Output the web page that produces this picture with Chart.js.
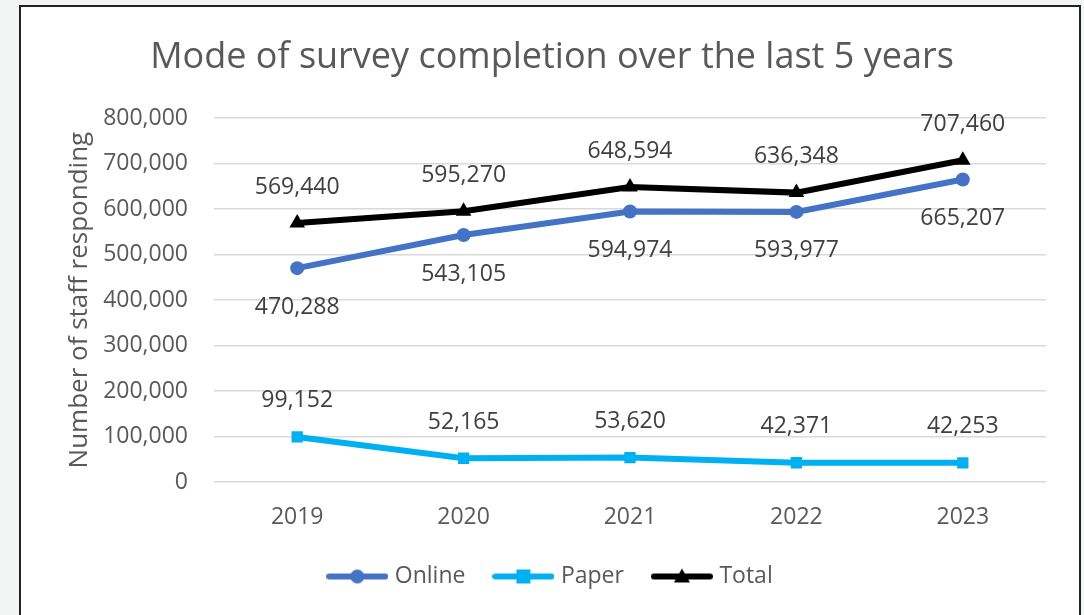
<!DOCTYPE html>
<html>
<head>
<meta charset="utf-8">
<script src="https://cdn.jsdelivr.net/npm/chart.js@4/dist/chart.umd.min.js"></script>
<style>
  html, body { margin: 0; padding: 0; background: #f3f5f4; width: 1084px; height: 615px; overflow: hidden; }
  #frame { position: absolute; left: 19px; top: 5px; width: 1058px; height: 640px; background: #ffffff; border: 2px solid #222222; }
  #wrap { position: absolute; left: 0; top: 0; width: 1084px; height: 615px; }
</style>
</head>
<body>
<div id="frame"></div>
<div id="wrap"><canvas id="chart" width="1084" height="615"></canvas></div>
<script>
const years = ['2019', '2020', '2021', '2022', '2023'];
const online = [470288, 543105, 594974, 593977, 665207];
const paper = [99152, 52165, 53620, 42371, 42253];
const total = [569440, 595270, 648594, 636348, 707460];
const yTicks = [0, 100000, 200000, 300000, 400000, 500000, 600000, 700000, 800000];

const FONT = "'Open Sans', 'Noto Sans', sans-serif";
const fmt = v => v.toLocaleString('en-US');

// Legend swatch: a short line with the series marker in the middle
function swatch(color, style) {
  const c = document.createElement('canvas');
  c.width = 62; c.height = 18;
  const g = c.getContext('2d');
  g.strokeStyle = color; g.lineWidth = 6; g.lineCap = 'round';
  g.beginPath(); g.moveTo(3, 9); g.lineTo(59, 9); g.stroke();
  g.fillStyle = color;
  if (style === 'circle') { g.beginPath(); g.arc(31, 9, 7, 0, Math.PI * 2); g.fill(); }
  else if (style === 'rect') { g.fillRect(24, 2, 14, 14); }
  else { g.beginPath(); g.moveTo(31, 1); g.lineTo(39, 15); g.lineTo(23, 15); g.closePath(); g.fill(); }
  return c;
}

// Value labels next to each point
const valueLabels = {
  id: 'valueLabels',
  afterDatasetsDraw(chart) {
    const ctx = chart.ctx;
    ctx.save();
    ctx.font = `23px ${FONT}`;
    ctx.fillStyle = '#404040';
    ctx.textAlign = 'center';
    ctx.textBaseline = 'middle';
    chart.data.datasets.forEach((ds, i) => {
      const meta = chart.getDatasetMeta(i);
      meta.data.forEach((pt, j) => {
        const dy = ds.labelPos === 'below' ? 39 : -36;
        ctx.fillText(fmt(ds.data[j]), pt.x, pt.y + dy);
      });
    });
    ctx.restore();
  }
};

const series = [
  { label: 'Online', data: online, color: '#4472C4', style: 'circle', radius: 7, pos: 'below' },
  { label: 'Paper', data: paper, color: '#00B0F0', style: 'rect', radius: 8, pos: 'above' },
  { label: 'Total', data: total, color: '#000000', style: 'triangle', radius: 9, pos: 'above' }
];

new Chart(document.getElementById('chart'), {
  type: 'line',
  data: {
    labels: years,
    datasets: series.map(s => ({
      label: s.label,
      data: s.data,
      borderColor: s.color,
      backgroundColor: s.color,
      borderWidth: 6,
      pointStyle: s.style,
      pointRadius: s.radius,
      pointBorderWidth: 0,
      pointHoverRadius: s.radius,
      tension: 0,
      labelPos: s.pos,
      swatch: swatch(s.color, s.style)
    }))
  },
  options: {
    responsive: false,
    animation: false,
    devicePixelRatio: 1,
    layout: { padding: { top: 18, left: 58, right: 38, bottom: 17 } },
    plugins: {
      title: {
        display: true,
        text: 'Mode of survey completion over the last 5 years',
        color: '#595959',
        font: { family: FONT, size: 36, weight: 'normal' },
        padding: { top: 18, bottom: 39 }
      },
      legend: {
        position: 'bottom',
        labels: {
          usePointStyle: true,
          pointStyleWidth: 52,
          padding: 32,
          color: '#595959',
          font: { family: FONT, size: 23 },
          generateLabels(chart) {
            return chart.data.datasets.map((ds, i) => ({
              text: ds.label,
              pointStyle: ds.swatch,
              fillStyle: ds.borderColor,
              strokeStyle: ds.borderColor,
              lineWidth: 0,
              fontColor: '#595959',
              datasetIndex: i,
              hidden: false
            }));
          }
        }
      },
      tooltip: { enabled: false }
    },
    scales: {
      x: {
        offset: true,
        grid: { display: false, drawTicks: false },
        border: { display: false },
        ticks: { color: '#595959', font: { family: FONT, size: 23 }, padding: 22 },
        afterFit(scale) { scale.height = 51; }
      },
      y: {
        min: 0,
        max: 800000,
        afterBuildTicks(axis) { axis.ticks = yTicks.map(v => ({ value: v })); },
        grid: { color: '#d9d9d9', lineWidth: 1.5, drawTicks: false },
        border: { display: false },
        ticks: { color: '#595959', font: { family: FONT, size: 23 }, padding: 26, callback: v => fmt(v) },
        title: {
          display: true,
          text: 'Number of staff responding',
          color: '#595959',
          font: { family: FONT, size: 26 },
          padding: { top: 6, bottom: 8 }
        },
        afterFit(scale) { scale.width = 156; }
      }
    }
  },
  plugins: [valueLabels]
});
</script>
</body>
</html>
